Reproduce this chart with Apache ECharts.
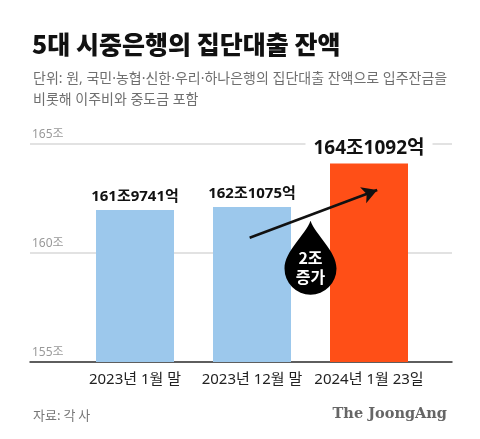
<!DOCTYPE html>
<html><head><meta charset="utf-8">
<script src="https://cdn.jsdelivr.net/npm/echarts@6/dist/echarts.min.js"></script>
<style>html,body{margin:0;padding:0;background:#fff}#c{width:480px;height:439px}</style>
</head><body><div id="c"></div>
<script>
const categories = ['2023년 1월 말', '2023년 12월 말', '2024년 1월 23일'];
const values = [161.9741, 162.1075, 164.1092];
const valueLabels = ['161조9741억', '162조1075억', '164조1092억'];
const yTicks = [155, 160, 165];
const arrowFrom = [0.98, 160.70];
const arrowTo = [2.07, 162.89];
const dropPoint = [1.5, 159.78];
const dropText = '2조\n증가';

const FONT = '"Noto Sans CJK KR", "Noto Sans", sans-serif';
const FONT2 = '"Noto Sans", "Noto Sans CJK KR", sans-serif';
const chart = echarts.init(document.getElementById('c'), null, {renderer: 'canvas'});
const dropPath = 'path://M26,0 C31,14 52,30 52,47 A26,26 0 1 1 0,47 C0,30 21,14 26,0 Z';

chart.setOption({
  backgroundColor: '#fff',
  animation: false,
  title: [
    {text: '5대 시중은행의 집단대출 잔액', left: 27, top: 27,
     textStyle: {fontFamily: FONT, fontSize: 25, fontWeight: 900, color: '#111'}},
    {text: '단위: 원, 국민·농협·신한·우리·하나은행의 집단대출 잔액으로 입주잔금을\n비롯해 이주비와 중도금 포함', left: 28, top: 64,
     textStyle: {fontFamily: FONT2, fontSize: 14, fontWeight: 400, color: '#6f6f6f', lineHeight: 21}},
    {text: '자료: 각 사', left: 28, top: 404,
     textStyle: {fontFamily: FONT, fontSize: 13, fontWeight: 400, color: '#777'}},
    {text: 'The JoongAng', right: 28, top: 402,
     textStyle: {fontFamily: '"DejaVu Serif", serif', fontSize: 14.5, fontWeight: 'bold', color: '#666'}}
  ],
  grid: [
    {left: 30, right: 28, top: 144, bottom: 77},
    {left: 76.5, right: 52.5, top: 144, bottom: 77}
  ],
  xAxis: [
    {type: 'category', gridIndex: 0, data: [''], axisTick: {show: false}, axisLabel: {show: false},
     axisLine: {show: true, lineStyle: {color: '#333', width: 1.5}}},
    {type: 'category', gridIndex: 1, data: categories, axisTick: {show: false}, axisLine: {show: false},
     axisLabel: {interval: 0, fontFamily: FONT2, fontSize: 15, color: '#222', margin: 10}},
    {type: 'value', gridIndex: 1, min: -0.5, max: 2.5, show: false}
  ],
  yAxis: [
    {type: 'value', gridIndex: 0, min: yTicks[0], max: yTicks[yTicks.length - 1], interval: 5,
     axisLine: {show: false}, axisTick: {show: false},
     splitLine: {lineStyle: {color: '#d9d9d9', width: 1.5}},
     axisLabel: {inside: true, verticalAlign: 'bottom', padding: [0, 0, 3, 0], margin: 2,
       fontFamily: FONT2, fontSize: 12, color: '#999', formatter: v => v + '조'}},
    {type: 'value', gridIndex: 1, min: yTicks[0], max: yTicks[yTicks.length - 1], show: false}
  ],
  series: [
    {type: 'line', xAxisIndex: 0, yAxisIndex: 0, data: [], silent: true},
    {type: 'bar', xAxisIndex: 1, yAxisIndex: 1, barWidth: 78,
     data: values.map((v, i) => ({
       value: v,
       itemStyle: {color: i === 2 ? '#FF4F17' : '#9CC8EC'},
       label: {show: true, position: 'top', distance: i === 2 ? 5 : 6,
         formatter: valueLabels[i], fontFamily: FONT2, fontWeight: 'bold',
         fontSize: i === 2 ? 19 : 15, color: '#111',
         backgroundColor: i === 2 ? '#fff' : 'transparent', padding: i === 2 ? [0, 8] : 0}
     }))},
    {type: 'scatter', xAxisIndex: 2, yAxisIndex: 1, symbol: dropPath, symbolSize: [52, 74],
     data: [dropPoint], itemStyle: {color: '#000', opacity: 1}, z: 5,
     label: {show: true, position: 'inside', offset: [0, 10], formatter: dropText,
       fontFamily: FONT, fontWeight: 'bold', fontSize: 16, lineHeight: 19, color: '#fff'},
     markLine: {silent: true, symbol: ['none', 'arrow'], symbolSize: [13, 15],
       lineStyle: {color: '#111', width: 2.5, type: 'solid', opacity: 1}, label: {show: false},
       data: [[{coord: arrowFrom}, {coord: arrowTo}]]}}
  ]
});
</script></body></html>
